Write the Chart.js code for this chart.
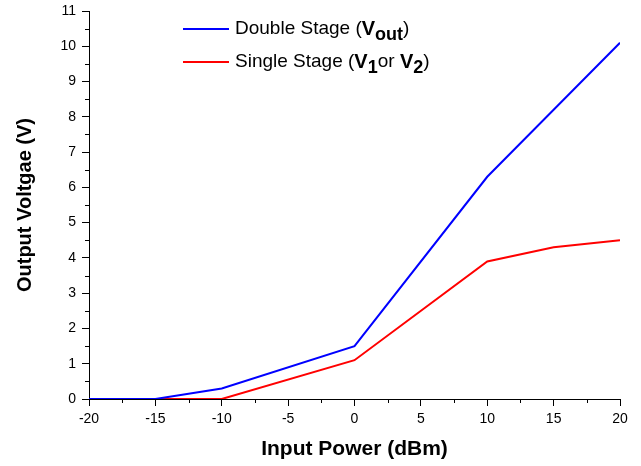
<!DOCTYPE html>
<html>
<head>
<meta charset="utf-8">
<script src="https://cdn.jsdelivr.net/npm/chart.js@4"></script>
<style>
  html, body { margin: 0; padding: 0; background: #fff; }
  #wrap { width: 641px; height: 466px; position: relative; }
</style>
</head>
<body>
<div id="wrap"><canvas id="voltChart"></canvas></div>
<script>
// input power sweep (dBm) and measured output voltages (V)
const inputPower = [-20, -15, -10, 0, 10, 15, 20];
const doubleStage = [0, 0, 0.3, 1.5, 6.3, 8.2, 10.1];
const singleStage = [0, 0, 0, 1.1, 3.9, 4.3, 4.5];

const xTicks = [-20, -15, -10, -5, 0, 5, 10, 15, 20];
const yTicks = [0, 1, 2, 3, 4, 5, 6, 7, 8, 9, 10, 11];

const FONT = '"Liberation Sans", Arial, sans-serif';

function toPoints(ys) {
    return inputPower.map((x, i) => ({ x: x, y: ys[i] }));
}

// minor ticks (half steps), pointing outwards like the major ones
const minorTicks = {
    id: 'minorTicks',
    afterDraw(chart) {
        const ctx = chart.ctx;
        const xs = chart.scales.x, ys = chart.scales.y;
        ctx.save();
        ctx.strokeStyle = '#000';
        ctx.lineWidth = 1;
        ctx.beginPath();
        for (let v = -17.5; v < 20; v += 5) {
            const px = Math.round(xs.getPixelForValue(v)) + 0.5;
            ctx.moveTo(px, ys.bottom);
            ctx.lineTo(px, ys.bottom + 4);
        }
        for (let v = 0.5; v < 11; v += 1) {
            const py = Math.round(ys.getPixelForValue(v)) + 0.5;
            ctx.moveTo(xs.left, py);
            ctx.lineTo(xs.left - 4, py);
        }
        ctx.stroke();
        ctx.restore();
    }
};

// legend with bold subscripted labels
const subLegend = {
    id: 'subLegend',
    afterDraw(chart) {
        const ctx = chart.ctx;
        const rows = [
            { color: '#0000ff', y: 29, parts: [
                ['Double Stage (', 'n'], ['V', 'b'], ['out', 'bs'], [')', 'n']] },
            { color: '#ff0000', y: 62, parts: [
                ['Single Stage (', 'n'], ['V', 'b'], ['1', 'bs'], ['or ', 'n'],
                ['V', 'b'], ['2', 'bs'], [')', 'n']] }
        ];
        ctx.save();
        rows.forEach(r => {
            ctx.strokeStyle = r.color;
            ctx.lineWidth = 2;
            ctx.beginPath();
            ctx.moveTo(183, r.y);
            ctx.lineTo(229, r.y);
            ctx.stroke();
            let x = 235;
            ctx.fillStyle = '#000';
            ctx.textBaseline = 'middle';
            r.parts.forEach(([t, s]) => {
                let dy = 0;
                if (s === 'n') ctx.font = '19px ' + FONT;
                else if (s === 'b') ctx.font = 'bold 20px ' + FONT;
                else { ctx.font = 'bold 18px ' + FONT; dy = 6; }
                ctx.fillText(t, x, r.y + dy);
                x += ctx.measureText(t).width;
            });
        });
        ctx.restore();
    }
};

new Chart(document.getElementById('voltChart'), {
    type: 'line',
    plugins: [minorTicks, subLegend],
    data: {
        datasets: [
            { label: 'Double Stage', data: toPoints(doubleStage), borderColor: '#0000ff',
              borderWidth: 2, pointRadius: 0, tension: 0, fill: false },
            { label: 'Single Stage', data: toPoints(singleStage), borderColor: '#ff0000',
              borderWidth: 2, pointRadius: 0, tension: 0, fill: false }
        ]
    },
    options: {
        responsive: true,
        maintainAspectRatio: false,
        animation: false,
        layout: { padding: { top: 11, right: 21, left: 0, bottom: 0 } },
        plugins: { legend: { display: false }, tooltip: { enabled: false } },
        scales: {
            x: {
                type: 'linear',
                min: -20, max: 20,
                afterBuildTicks: s => { s.ticks = xTicks.map(v => ({ value: v })); },
                afterFit: s => { s.height = 67; },
                border: { display: true, color: '#000', width: 1 },
                grid: { drawOnChartArea: false, drawTicks: true, tickLength: 7, color: '#000' },
                ticks: { color: '#000', font: { family: FONT, size: 14 }, padding: 5, maxRotation: 0 },
                title: { display: true, text: 'Input Power (dBm)', color: '#000',
                         font: { family: FONT, size: 21, weight: 'bold' }, padding: { top: 4 } }
            },
            y: {
                min: 0, max: 11,
                afterBuildTicks: s => { s.ticks = yTicks.map(v => ({ value: v })); },
                afterFit: s => { s.width = 89; s.paddingTop = 0; s.paddingBottom = 0; },
                border: { display: true, color: '#000', width: 1 },
                grid: { drawOnChartArea: false, drawTicks: true, tickLength: 7, color: '#000' },
                ticks: { color: '#000', font: { family: FONT, size: 14, lineHeight: 1 }, padding: 6 },
                title: { display: true, text: 'Output Voltgae (V)', color: '#000',
                         font: { family: FONT, size: 20, weight: 'bold' }, padding: { top: 13 } }
            }
        }
    }
});
</script>
</body>
</html>
